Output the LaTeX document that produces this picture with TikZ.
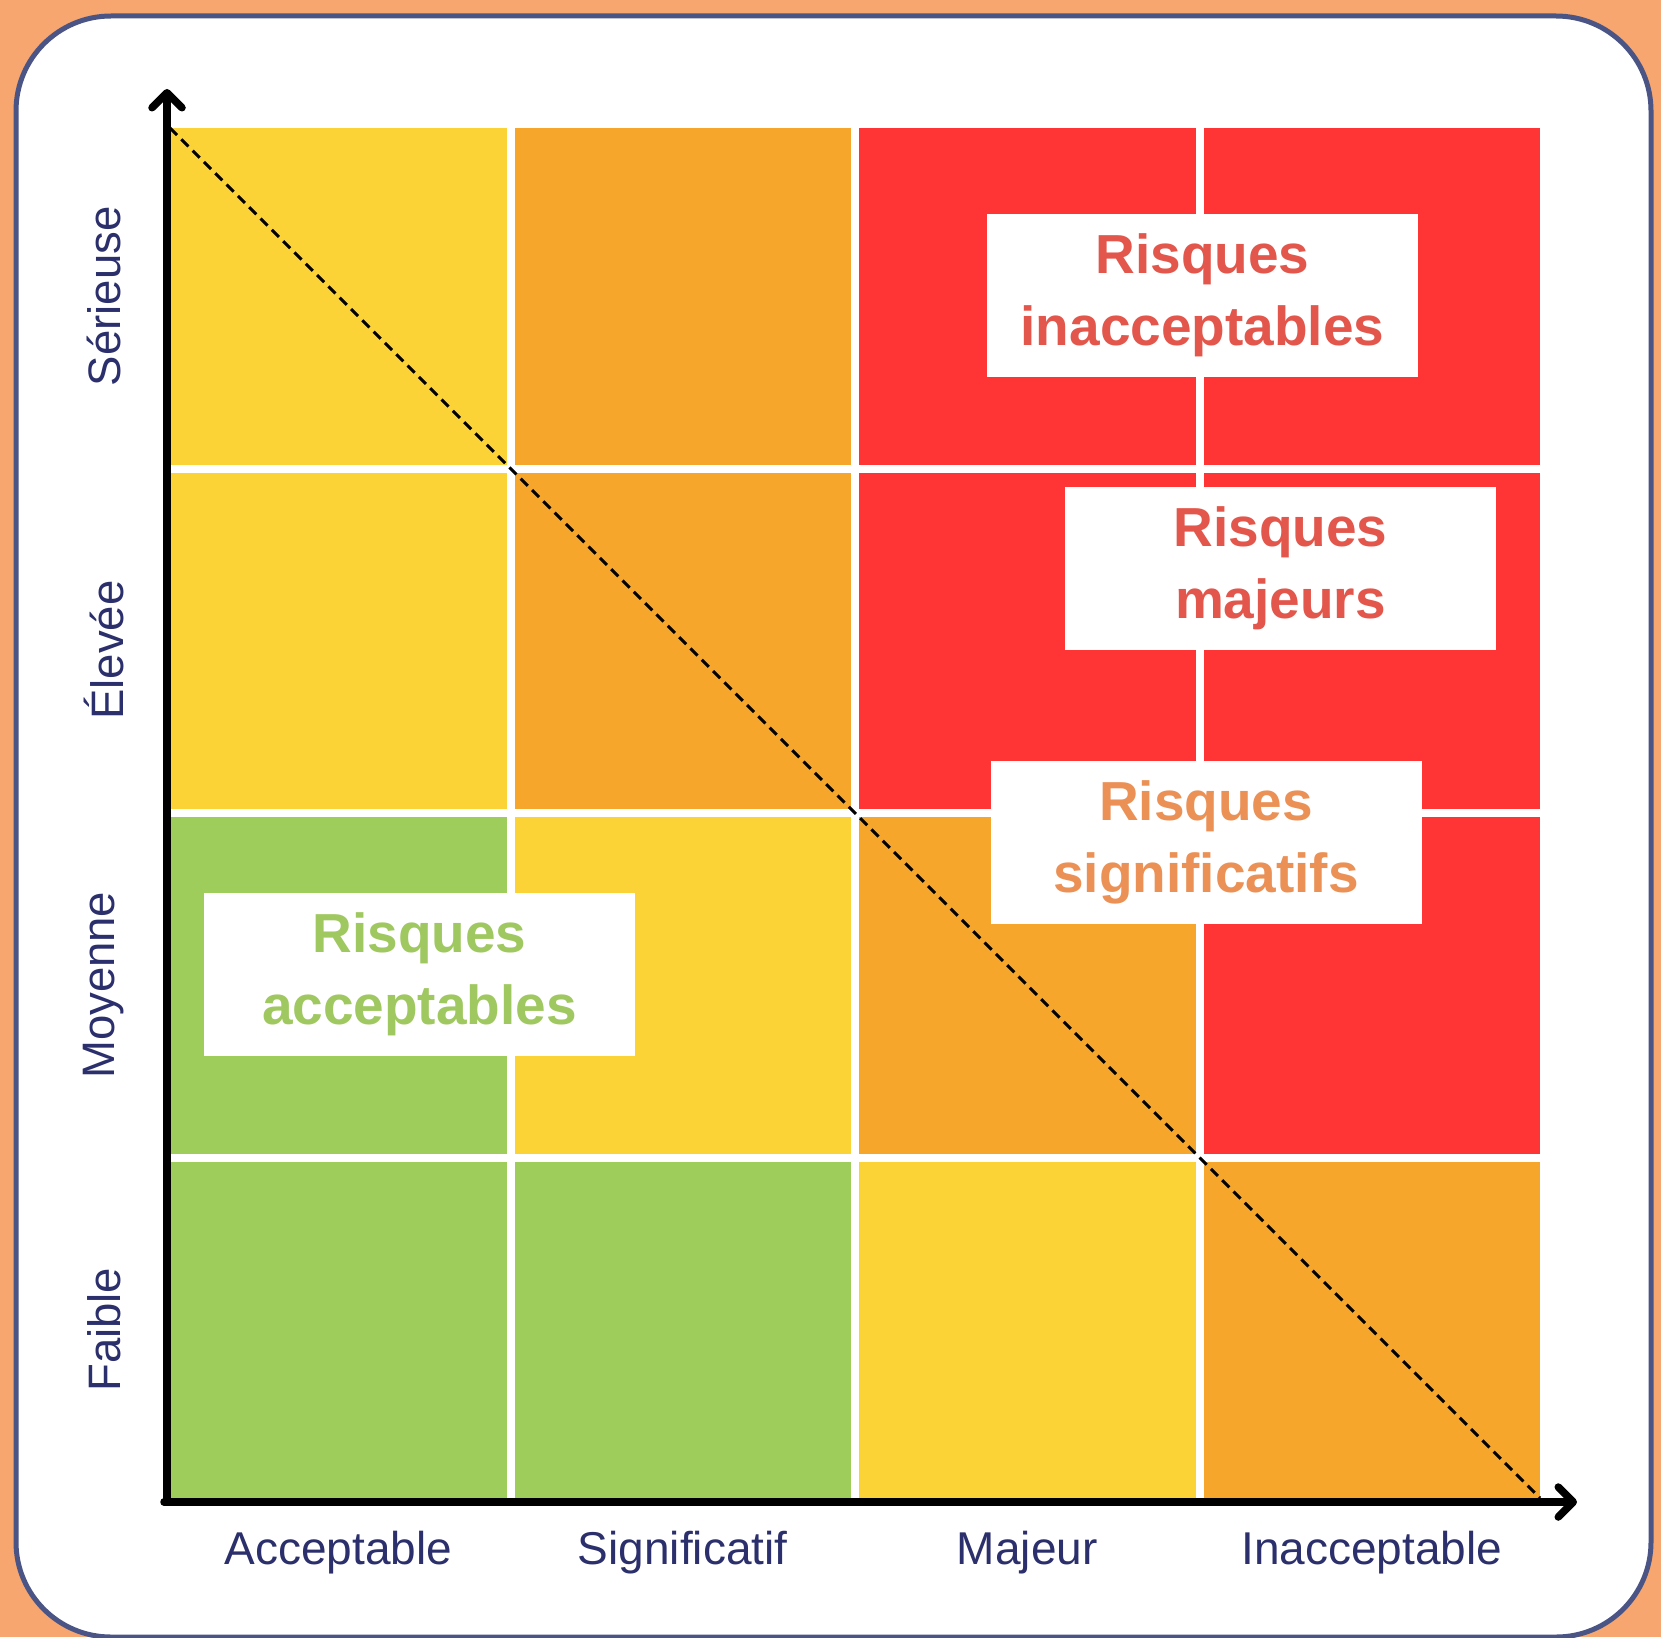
\documentclass[tikz,border=0pt]{standalone}
\usepackage{fontspec}
\setmainfont{Liberation Sans}
\usetikzlibrary{arrows.meta}
\definecolor{bgorange}{HTML}{F6A66E}
\definecolor{panelborder}{HTML}{4B5585}
\definecolor{cyellow}{HTML}{FCD337}
\definecolor{corange}{HTML}{F5A62B}
\definecolor{cred}{HTML}{FF3434}
\definecolor{cgreen}{HTML}{9FCD5B}
\definecolor{tred}{HTML}{E3564B}
\definecolor{torange}{HTML}{EB9155}
\definecolor{tgreen}{HTML}{A0C860}
\definecolor{navy}{HTML}{2B2F6B}
\begin{document}
\begin{tikzpicture}[x=1pt,y=-1pt,
  cell/.style={minimum width=336.5pt, minimum height=336.5pt, inner sep=0pt, outer sep=0pt, anchor=north west, draw=none},
  riskbox/.style={fill=white, minimum width=431pt, minimum height=163pt, inner sep=0pt, outer sep=0pt, align=center, font=\bfseries\fontsize{55}{72}\selectfont},
  axislabel/.style={text=navy, inner sep=0pt, font=\fontsize{46}{55}\selectfont},
  sidelabel/.style={text=navy, inner sep=0pt, rotate=90, font=\fontsize{45.5}{54}\selectfont},
  axisline/.style={line width=7.5pt, line cap=round, -{Straight Barb[round,length=15pt,width=30pt]}},
  diag/.style={line width=3pt, dash pattern=on 10pt off 6pt},
]
\useasboundingbox (0,0) rectangle (1661,1637);
\fill[bgorange] (0,0) rectangle (1661,1637);
\draw[fill=white, draw=panelborder, line width=5pt, rounded corners=95pt] (16,16) rectangle (1651,1637);

% grid cells
\foreach \r/\c/\col in {0/0/cyellow,0/1/corange,0/2/cred,0/3/cred,
                        1/0/cyellow,1/1/corange,1/2/cred,1/3/cred,
                        2/0/cgreen,2/1/cyellow,2/2/corange,2/3/cred,
                        3/0/cgreen,3/1/cgreen,3/2/cyellow,3/3/corange}{
  \node[cell, fill=\col] (c\r\c) at ({170+\c*344.5},{128+\r*344.5}) {};
}

% diagonal
\draw[diag] (c00.north west) -- (c33.south east);

% risk boxes
\node[riskbox, text=tred] (binac) at (1202.5,295.5) {Risques\\inacceptables};
\node[riskbox, text=tred] (bmaj) at (1280.5,568.5) {Risques\\majeurs};
\node[riskbox, text=torange] (bsig) at (1206,842.5) {Risques\\significatifs};
\node[riskbox, text=tgreen] (bacc) at (419.5,974.5) {Risques\\acceptables};

% axes
\coordinate (ystart) at (167,1502);
\coordinate (ytip) at (167,89);
\coordinate (xstart) at (164,1502);
\coordinate (xtip) at (1577,1502);
\draw[axisline] (ystart) -- (ytip);
\draw[axisline] (xstart) -- (xtip);

% x labels
\node[axislabel] (lx0) at (338.25,1553) {Acceptable};
\node[axislabel] (lx1) at (682.75,1553) {Significatif};
\node[axislabel] (lx2) at (1027.25,1553) {Majeur};
\node[axislabel] (lx3) at (1371.75,1553) {Inacceptable};

% y labels
\node[sidelabel] (ly0) at (104,296.25) {Sérieuse};
\node[sidelabel] (ly1) at (104,650) {Élevée};
\node[sidelabel] (ly2) at (104,985.25) {Moyenne};
\node[sidelabel] (ly3) at (104,1329.75) {Faible};
\end{tikzpicture}
\end{document}
